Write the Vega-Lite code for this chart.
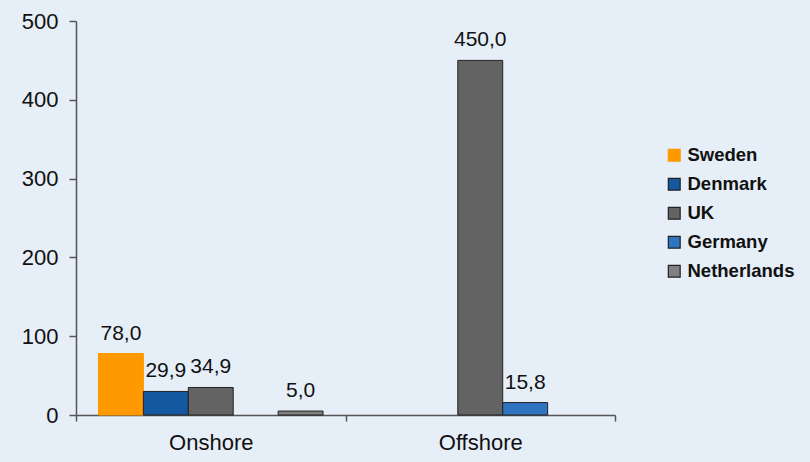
{
  "$schema": "https://vega.github.io/schema/vega-lite/v6.json",
  "width": 539,
  "height": 394,
  "autosize": {"type": "none"},
  "padding": {"left": 76, "top": 21, "right": 195, "bottom": 47},
  "background": "#e6eef7",
  "config": {
    "view": {"stroke": null},
    "font": "Liberation Sans",
    "locale": {"number": {"decimal": ",", "thousands": ".", "grouping": [3], "currency": ["", " €"]}}
  },
  "data": {
    "values": [
      {"type": "Onshore", "country": "Sweden", "value": 78.0},
      {"type": "Onshore", "country": "Denmark", "value": 29.9},
      {"type": "Onshore", "country": "UK", "value": 34.9},
      {"type": "Onshore", "country": "Netherlands", "value": 5.0},
      {"type": "Offshore", "country": "UK", "value": 450.0},
      {"type": "Offshore", "country": "Germany", "value": 15.8}
    ]
  },
  "encoding": {
    "x": {
      "field": "type", "type": "nominal", "sort": ["Onshore", "Offshore"],
      "scale": {"paddingInner": 0, "paddingOuter": 0},
      "axis": {
        "title": null, "labelAngle": 0, "labelFontSize": 22, "labelColor": "#111",
        "labelPadding": 11, "domainColor": "#555", "domainWidth": 1.5,
        "tickColor": "#555", "tickWidth": 1.5, "tickSize": 6, "tickBand": "extent"
      }
    },
    "xOffset": {
      "field": "country", "type": "nominal",
      "scale": {"domain": ["Sweden", "Denmark", "UK", "Germany", "Netherlands"], "paddingInner": 0, "paddingOuter": 0.5}
    },
    "y": {
      "field": "value", "type": "quantitative",
      "scale": {"domain": [0, 500], "nice": false},
      "axis": {
        "title": null, "values": [0, 100, 200, 300, 400, 500], "grid": false,
        "labelFontSize": 22, "labelColor": "#111", "labelPadding": 11,
        "domainColor": "#555", "domainWidth": 1.5, "tickColor": "#555", "tickWidth": 1.5, "tickSize": 7
      }
    }
  },
  "layer": [
    {
      "mark": {"type": "bar", "strokeWidth": 1},
      "encoding": {
        "color": {
          "field": "country", "type": "nominal",
          "scale": {"domain": ["Sweden", "Denmark", "UK", "Germany", "Netherlands"],
                    "range": ["#ff9900", "#1458a2", "#636363", "#2e74c0", "#808080"]},
          "legend": {
            "title": null, "orient": "none", "legendX": 589, "legendY": 125,
            "symbolType": "square", "symbolSize": 140, "symbolStrokeWidth": 1.2,
            "symbolOpacity": 1, "labelFontSize": 18.5, "labelFontWeight": "bold", "labelColor": "#111",
            "rowPadding": 10, "labelOffset": 4, "padding": 0
          }
        },
        "stroke": {
          "field": "country", "type": "nominal",
          "scale": {"domain": ["Sweden", "Denmark", "UK", "Germany", "Netherlands"],
                    "range": ["#ff9900", "#222222", "#222222", "#222222", "#222222"]},
          "legend": {
            "title": null, "orient": "none", "legendX": 589, "legendY": 125,
            "symbolType": "square", "symbolSize": 140, "symbolStrokeWidth": 1.2,
            "symbolOpacity": 1, "labelFontSize": 18.5, "labelFontWeight": "bold", "labelColor": "#111",
            "rowPadding": 10, "labelOffset": 4, "padding": 0
          }
        }
      }
    },
    {
      "mark": {"type": "text", "baseline": "bottom", "dy": -10, "fontSize": 21, "color": "#111"},
      "encoding": {
        "text": {"field": "value", "type": "quantitative", "format": ".1f"}
      }
    }
  ]
}
